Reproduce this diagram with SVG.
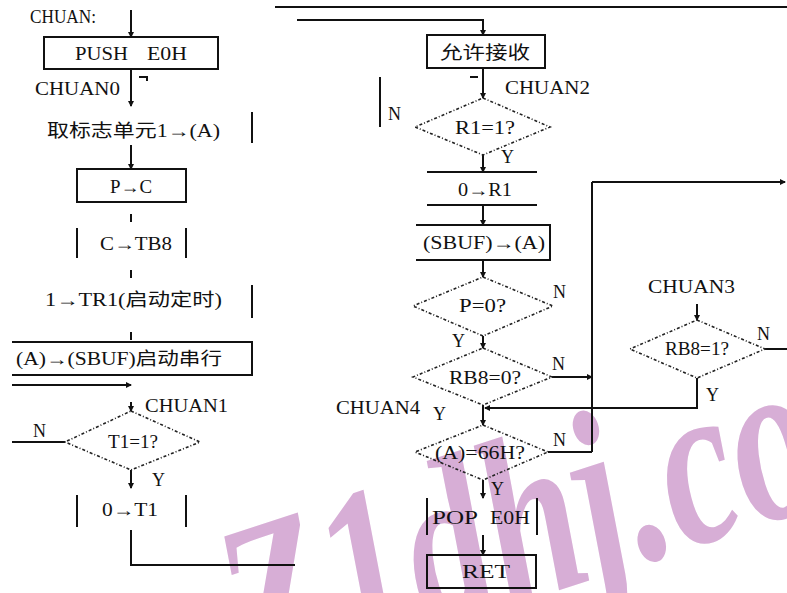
<svg xmlns="http://www.w3.org/2000/svg" width="787" height="593" viewBox="0 0 787 593">
<style>
  text { font-family: "Liberation Serif", "Noto Sans CJK SC", serif; font-size: 18px; fill: #111; }
  .box { fill: none; stroke: #111; stroke-width: 2; }
  .ln { fill: none; stroke: #111; stroke-width: 2; }
  .dia { fill: none; stroke: #222; stroke-width: 1.6; stroke-dasharray: 3 2 1 2; }
  .wm { font-family: "Liberation Serif", serif; font-style: italic; font-weight: bold; font-size: 200px; fill: #d7aed6; }
</style>
<defs>
  <marker id="ar" viewBox="0 0 6 6" refX="5" refY="3" markerWidth="6" markerHeight="6" orient="auto" markerUnits="userSpaceOnUse">
    <path d="M0,0 L6,3 L0,6 z" fill="#111"/>
  </marker>
</defs>
<rect width="787" height="593" fill="#fff"/>
<g id="watermark">
  <text class="wm" transform="translate(252 690) rotate(-18) scale(0.84 1.18)">Z1dhj.co</text>
</g>
<g id="connectors">
  <line class="ln" x1="275" y1="7" x2="787" y2="7" stroke-width="2.5"/>
  <line class="ln" x1="131" y1="10" x2="131" y2="37" marker-end="url(#ar)"/>
  <line class="ln" x1="131" y1="69" x2="131" y2="106" marker-end="url(#ar)"/>
  <polyline class="ln" points="139,77 147,77 147,81"/>
  <line class="ln" x1="131" y1="145" x2="131" y2="169" marker-end="url(#ar)"/>
  <line class="ln" x1="131" y1="214" x2="131" y2="222"/>
  <line class="ln" x1="131" y1="270" x2="131" y2="278"/>
  <line class="ln" x1="131" y1="332" x2="131" y2="340"/>
  <line class="ln" x1="12" y1="385" x2="131" y2="385" marker-end="url(#ar)"/>
  <line class="ln" x1="131" y1="402" x2="131" y2="411" marker-end="url(#ar)"/>
  <line class="ln" x1="12" y1="442" x2="65" y2="442"/>
  <line class="ln" x1="131" y1="470" x2="131" y2="488" marker-end="url(#ar)"/>
  <polyline class="ln" points="131,530 131,565 295,565"/>
  <polyline class="ln" points="297,20 483,20 483,35" marker-end="url(#ar)"/>
  <line class="ln" x1="483" y1="68" x2="483" y2="98" marker-end="url(#ar)"/>
  <polyline class="ln" points="470,77 478,77"/>
  <line class="ln" x1="380" y1="77" x2="380" y2="127"/>
  <line class="ln" x1="483" y1="155" x2="483" y2="172" marker-end="url(#ar)"/>
  <line class="ln" x1="483" y1="205" x2="483" y2="225" marker-end="url(#ar)"/>
  <line class="ln" x1="483" y1="260" x2="483" y2="277" marker-end="url(#ar)"/>
  <line class="ln" x1="483" y1="336" x2="483" y2="348" marker-end="url(#ar)"/>
  <line class="ln" x1="552" y1="377" x2="592" y2="377" marker-end="url(#ar)"/>
  <line class="ln" x1="592" y1="182" x2="592" y2="452"/>
  <line class="ln" x1="592" y1="182" x2="785" y2="182" marker-end="url(#ar)"/>
  <line class="ln" x1="483" y1="405" x2="483" y2="425" marker-end="url(#ar)"/>
  <polyline class="ln" points="548,452 592,452"/>
  <line class="ln" x1="483" y1="480" x2="483" y2="498" marker-end="url(#ar)"/>
  <line class="ln" x1="483" y1="535" x2="483" y2="555" marker-end="url(#ar)"/>
  <line class="ln" x1="697" y1="304" x2="697" y2="320" marker-end="url(#ar)"/>
  <line class="ln" x1="765" y1="349" x2="787" y2="349"/>
  <polyline class="ln" points="697,378 697,408 485,408" marker-end="url(#ar)"/>
</g>
<g id="n-chuanx"><text x="30" y="23" textLength="66" lengthAdjust="spacingAndGlyphs">CHUAN:</text></g>
<g id="n-push">
  <rect class="box" x="44" y="37" width="174" height="32"/>
  <text x="75" y="60" textLength="53" lengthAdjust="spacingAndGlyphs">PUSH</text>
  <text x="147" y="60" textLength="40" lengthAdjust="spacingAndGlyphs">E0H</text>
</g>
<g id="n-chuan0"><text x="35" y="95" textLength="85" lengthAdjust="spacingAndGlyphs">CHUAN0</text></g>
<g id="n-getflag">
  <line class="ln" x1="252" y1="112" x2="252" y2="143"/>
  <text x="47" y="137" textLength="173" lengthAdjust="spacingAndGlyphs">取标志单元1→(A)</text>
</g>
<g id="n-pc">
  <rect class="box" x="77" y="169" width="109" height="33"/>
  <text x="110" y="193" textLength="42" lengthAdjust="spacingAndGlyphs">P→C</text>
</g>
<g id="n-ctb8">
  <line class="ln" x1="77" y1="228" x2="77" y2="258"/>
  <line class="ln" x1="186" y1="228" x2="186" y2="258"/>
  <text x="100" y="250" textLength="72" lengthAdjust="spacingAndGlyphs">C→TB8</text>
</g>
<g id="n-tr1">
  <line class="ln" x1="252" y1="285" x2="252" y2="318"/>
  <text x="45" y="306" textLength="177" lengthAdjust="spacingAndGlyphs">1→TR1(启动定时)</text>
</g>
<g id="n-sbuf-out">
  <polyline class="box" points="12,342 252,342 252,375 12,375"/>
  <text x="16" y="365" textLength="206" lengthAdjust="spacingAndGlyphs">(A)→(SBUF)启动串行</text>
</g>
<g id="n-chuan1"><text x="145" y="412" textLength="83" lengthAdjust="spacingAndGlyphs">CHUAN1</text></g>
<g id="n-t1">
  <polygon class="dia" points="131,411 200,442 131,470 65,442"/>
  <text x="108" y="448" textLength="50" lengthAdjust="spacingAndGlyphs">T1=1?</text>
  <text x="33" y="437">N</text>
  <text x="152" y="486">Y</text>
</g>
<g id="n-0t1">
  <line class="ln" x1="77" y1="495" x2="77" y2="527"/>
  <line class="ln" x1="186" y1="495" x2="186" y2="527"/>
  <text x="102" y="516" textLength="56" lengthAdjust="spacingAndGlyphs">0→T1</text>
</g>
<g id="n-recv">
  <rect class="box" x="427" y="35" width="118" height="33"/>
  <text x="440" y="59" textLength="90" lengthAdjust="spacingAndGlyphs">允许接收</text>
</g>
<g id="n-chuan2"><text x="505" y="94" textLength="85" lengthAdjust="spacingAndGlyphs">CHUAN2</text></g>
<g id="n-r1">
  <polygon class="dia" points="483,98 550,127 483,155 415,127"/>
  <text x="455" y="134" textLength="60" lengthAdjust="spacingAndGlyphs">R1=1?</text>
  <text x="388" y="120">N</text>
  <text x="501" y="163">Y</text>
</g>
<g id="n-0r1">
  <line class="ln" x1="427" y1="172" x2="537" y2="172"/>
  <line class="ln" x1="427" y1="205" x2="537" y2="205"/>
  <text x="458" y="196" textLength="54" lengthAdjust="spacingAndGlyphs">0→R1</text>
</g>
<g id="n-sbuf-in">
  <polyline class="box" points="416,225 550,225 550,260 416,260"/>
  <text x="423" y="249" textLength="122" lengthAdjust="spacingAndGlyphs">(SBUF)→(A)</text>
</g>
<g id="n-p0">
  <polygon class="dia" points="483,277 553,306 483,336 413,306"/>
  <text x="459" y="312" textLength="47" lengthAdjust="spacingAndGlyphs">P=0?</text>
  <text x="553" y="298">N</text>
  <text x="452" y="347">Y</text>
</g>
<g id="n-rb80">
  <polygon class="dia" points="483,348 552,377 483,405 413,377"/>
  <text x="449" y="384" textLength="72" lengthAdjust="spacingAndGlyphs">RB8=0?</text>
  <text x="552" y="370">N</text>
</g>
<g id="n-chuan4">
  <text x="336" y="414" textLength="84" lengthAdjust="spacingAndGlyphs">CHUAN4</text>
  <text x="433" y="420">Y</text>
</g>
<g id="n-a66">
  <polygon class="dia" points="483,425 548,452 483,480 415,452"/>
  <text x="435" y="459" textLength="90" lengthAdjust="spacingAndGlyphs">(A)=66H?</text>
  <text x="553" y="446">N</text>
  <text x="491" y="495">Y</text>
</g>
<g id="n-pop">
  <line class="ln" x1="427" y1="498" x2="427" y2="535"/>
  <line class="ln" x1="537" y1="498" x2="537" y2="535"/>
  <text x="432" y="524" textLength="46" lengthAdjust="spacingAndGlyphs">POP</text>
  <text x="490" y="524" textLength="40" lengthAdjust="spacingAndGlyphs">E0H</text>
</g>
<g id="n-ret">
  <rect class="box" x="427" y="555" width="109" height="33"/>
  <text x="462" y="578" textLength="48" lengthAdjust="spacingAndGlyphs">RET</text>
</g>
<g id="n-chuan3"><text x="648" y="293" textLength="87" lengthAdjust="spacingAndGlyphs">CHUAN3</text></g>
<g id="n-rb81">
  <polygon class="dia" points="697,320 765,349 697,378 630,349"/>
  <text x="665" y="355" textLength="64" lengthAdjust="spacingAndGlyphs">RB8=1?</text>
  <text x="757" y="340">N</text>
  <text x="706" y="401">Y</text>
</g>
</svg>
